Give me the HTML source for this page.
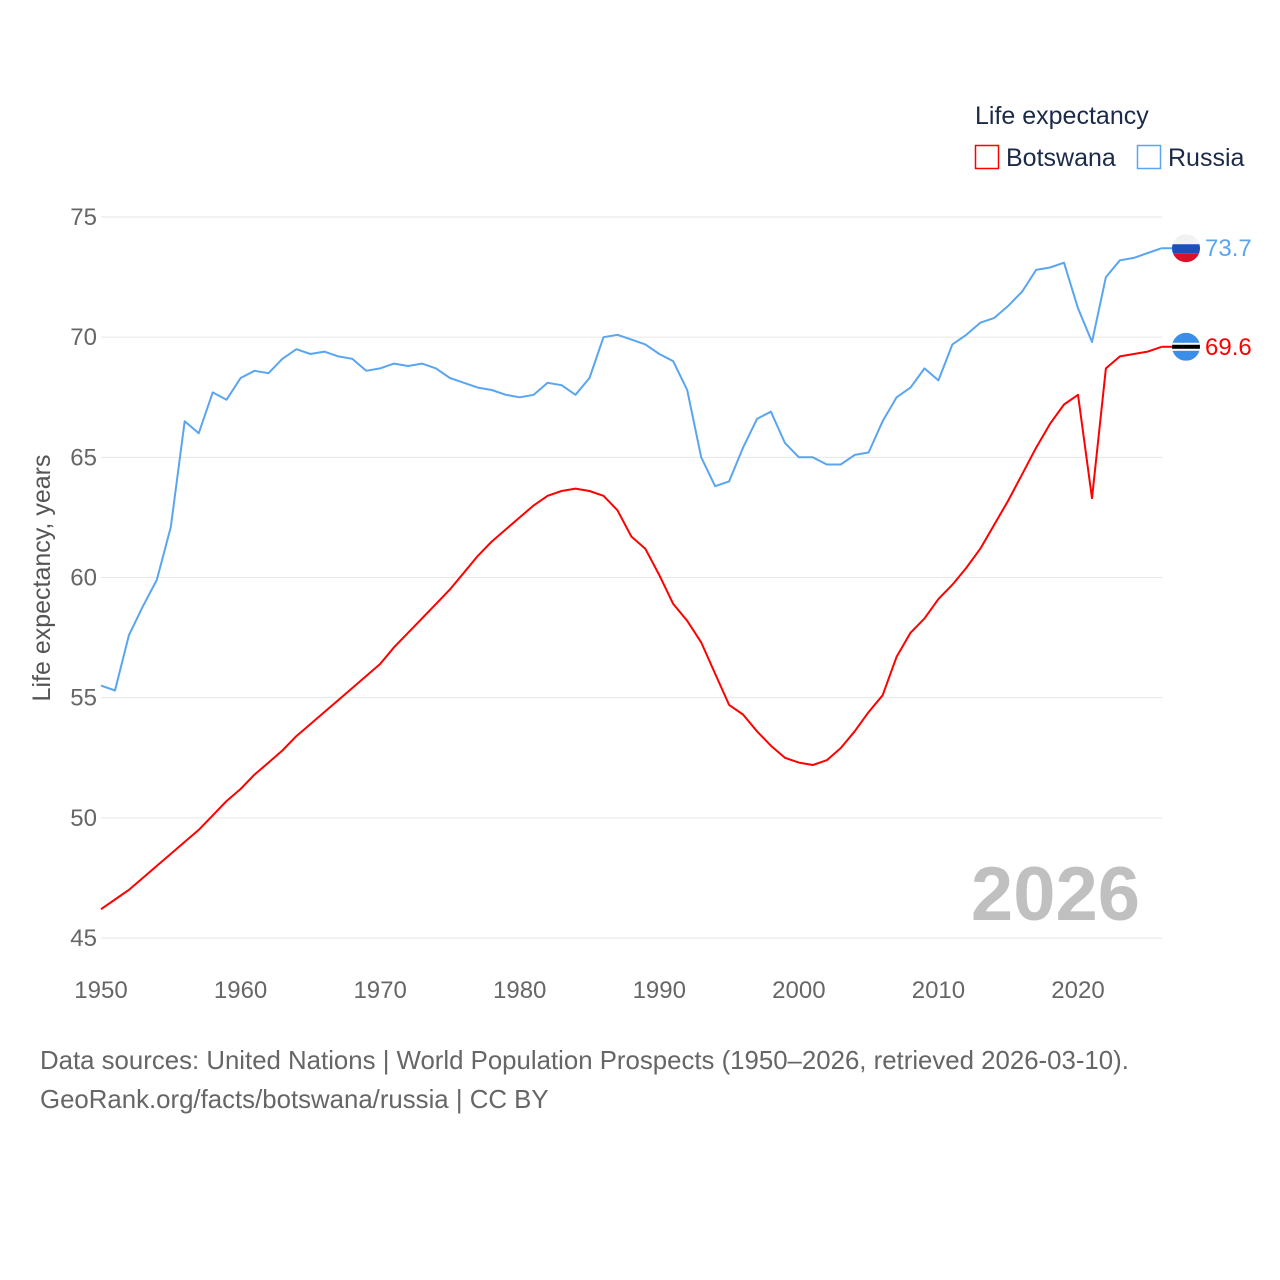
<!DOCTYPE html>
<html><head><meta charset="utf-8"><style>
html,body{margin:0;padding:0;background:#fff;}
svg{display:block;font-family:"Liberation Sans",sans-serif;}
</style></head><body>
<svg id="chart" width="1280" height="1280" viewBox="0 0 1280 1280">
<g id="grid"></g>
<g id="xaxis"></g>
<g id="yaxis"></g>
<text x="50" y="578" transform="rotate(-90 50 578)" text-anchor="middle" font-size="25" fill="#555">Life expectancy, years</text>
<text x="1140" y="920" text-anchor="end" font-size="76" font-weight="bold" fill="#c0c0c0">2026</text>
<g id="series"></g>
<g>
<text x="975" y="124" font-size="25" fill="#1b2a48">Life expectancy</text>
<g><rect x="975.5" y="145.5" width="23" height="23" fill="none" stroke="#ff0000" stroke-width="1.5"/><text x="1006" y="166" font-size="25" fill="#1b2a48">Botswana</text></g>
<g><rect x="1137.5" y="145.5" width="23" height="23" fill="none" stroke="#5aa5f0" stroke-width="1.5"/><text x="1168" y="166" font-size="25" fill="#1b2a48">Russia</text></g>
</g>
<text x="40" y="1069" font-size="25.8" fill="#666">Data sources: United Nations | World Population Prospects (1950–2026, retrieved 2026-03-10).</text>
<text x="40" y="1108" font-size="25.8" fill="#666">GeoRank.org/facts/botswana/russia | CC BY</text>
</svg>
<script>
const years=[];for(let y=1950;y<=2026;y++)years.push(y);
const russia=[55.5,55.3,57.6,58.8,59.9,62.1,66.5,66.0,67.7,67.4,68.3,68.6,68.5,69.1,69.5,69.3,69.4,69.2,69.1,68.6,68.7,68.9,68.8,68.9,68.7,68.3,68.1,67.9,67.8,67.6,67.5,67.6,68.1,68.0,67.6,68.3,70.0,70.1,69.9,69.7,69.3,69.0,67.8,65.0,63.8,64.0,65.4,66.6,66.9,65.6,65.0,65.0,64.7,64.7,65.1,65.2,66.5,67.5,67.9,68.7,68.2,69.7,70.1,70.6,70.8,71.3,71.9,72.8,72.9,73.1,71.2,69.8,72.5,73.2,73.3,73.5,73.7];
const botswana=[46.2,46.6,47.0,47.5,48.0,48.5,49.0,49.5,50.1,50.7,51.2,51.8,52.3,52.8,53.4,53.9,54.4,54.9,55.4,55.9,56.4,57.1,57.7,58.3,58.9,59.5,60.2,60.9,61.5,62.0,62.5,63.0,63.4,63.6,63.7,63.6,63.4,62.8,61.7,61.2,60.1,58.9,58.2,57.3,56.0,54.7,54.3,53.6,53.0,52.5,52.3,52.2,52.4,52.9,53.6,54.4,55.1,56.7,57.7,58.3,59.1,59.7,60.4,61.2,62.2,63.2,64.3,65.4,66.4,67.2,67.6,63.3,68.7,69.2,69.3,69.4,69.6];
const yTicks=[45,50,55,60,65,70,75];
const xTicks=[1950,1960,1970,1980,1990,2000,2010,2020];
const X=v=>101+(v-1950)*(1078-101)/70;
const Y=v=>938-(v-45)*(938-217)/30;
const NS='http://www.w3.org/2000/svg';
function mk(tag,attrs,parent,txt){const e=document.createElementNS(NS,tag);for(const k in attrs)e.setAttribute(k,attrs[k]);if(txt!==undefined)e.textContent=txt;parent.appendChild(e);return e;}
const grid=document.getElementById('grid'),ya=document.getElementById('yaxis'),xa=document.getElementById('xaxis'),ser=document.getElementById('series');
yTicks.forEach(t=>{
 const l=mk('line',{x1:101,x2:1162,y1:Y(t),y2:Y(t),stroke:'#e6e6e6','stroke-width':1},grid);
 
 
 const tx=mk('text',{x:97,y:Y(t)+8,'text-anchor':'end','font-size':24,fill:'#666'},ya,String(t));
 
 
});
xTicks.forEach(t=>{
 const tx=mk('text',{x:X(t),y:998,'text-anchor':'middle','font-size':24,fill:'#666'},xa,String(t));
 
 
});
function line(vals,color,name){
 const d=vals.map((v,i)=>(i?'L':'M')+X(years[i]).toFixed(1)+' '+Y(v).toFixed(1)).join(' ');
 const p=mk('path',{d:d,fill:'none',stroke:color,'stroke-width':2,'stroke-linejoin':'round'},ser);
 
 
 const last=vals[vals.length-1];
 const lx=X(years[years.length-1]);
 mk('line',{x1:lx,x2:1172,y1:Y(last),y2:Y(last),stroke:color,'stroke-width':2},ser);
 return last;
}
const rl=line(russia,'#5aa5f0','russia-line');
const bl=line(botswana,'#ff0000','botswana-line');
const defs=mk('defs',{},ser);
const c1=mk('clipPath',{id:'cr'},defs);mk('circle',{cx:1186,cy:Y(rl),r:14},c1);
const c2=mk('clipPath',{id:'cb'},defs);mk('circle',{cx:1186,cy:Y(bl),r:14},c2);
const fr=mk('g',{'clip-path':'url(#cr)'},ser);


const ry=Y(rl);
mk('rect',{x:1172,y:ry-14,width:28,height:10,fill:'#f2f2f2'},fr);
mk('rect',{x:1172,y:ry-4,width:28,height:9,fill:'#1c4fb8'},fr);
mk('rect',{x:1172,y:ry+5,width:28,height:10,fill:'#d8122a'},fr);
const fb=mk('g',{'clip-path':'url(#cb)'},ser);


const by=Y(bl);
mk('rect',{x:1172,y:by-14,width:28,height:28,fill:'#3b8ee8'},fb);
mk('rect',{x:1172,y:by-4,width:28,height:8,fill:'#fff'},fb);
mk('rect',{x:1172,y:by-2,width:28,height:4,fill:'#000'},fb);
const t1=mk('text',{x:1205,y:ry+8,'font-size':24,fill:'#5aa5f0'},ser,rl.toFixed(1));


const t2=mk('text',{x:1205,y:by+8,'font-size':24,fill:'#ff0000'},ser,bl.toFixed(1));


</script>
</body></html>
